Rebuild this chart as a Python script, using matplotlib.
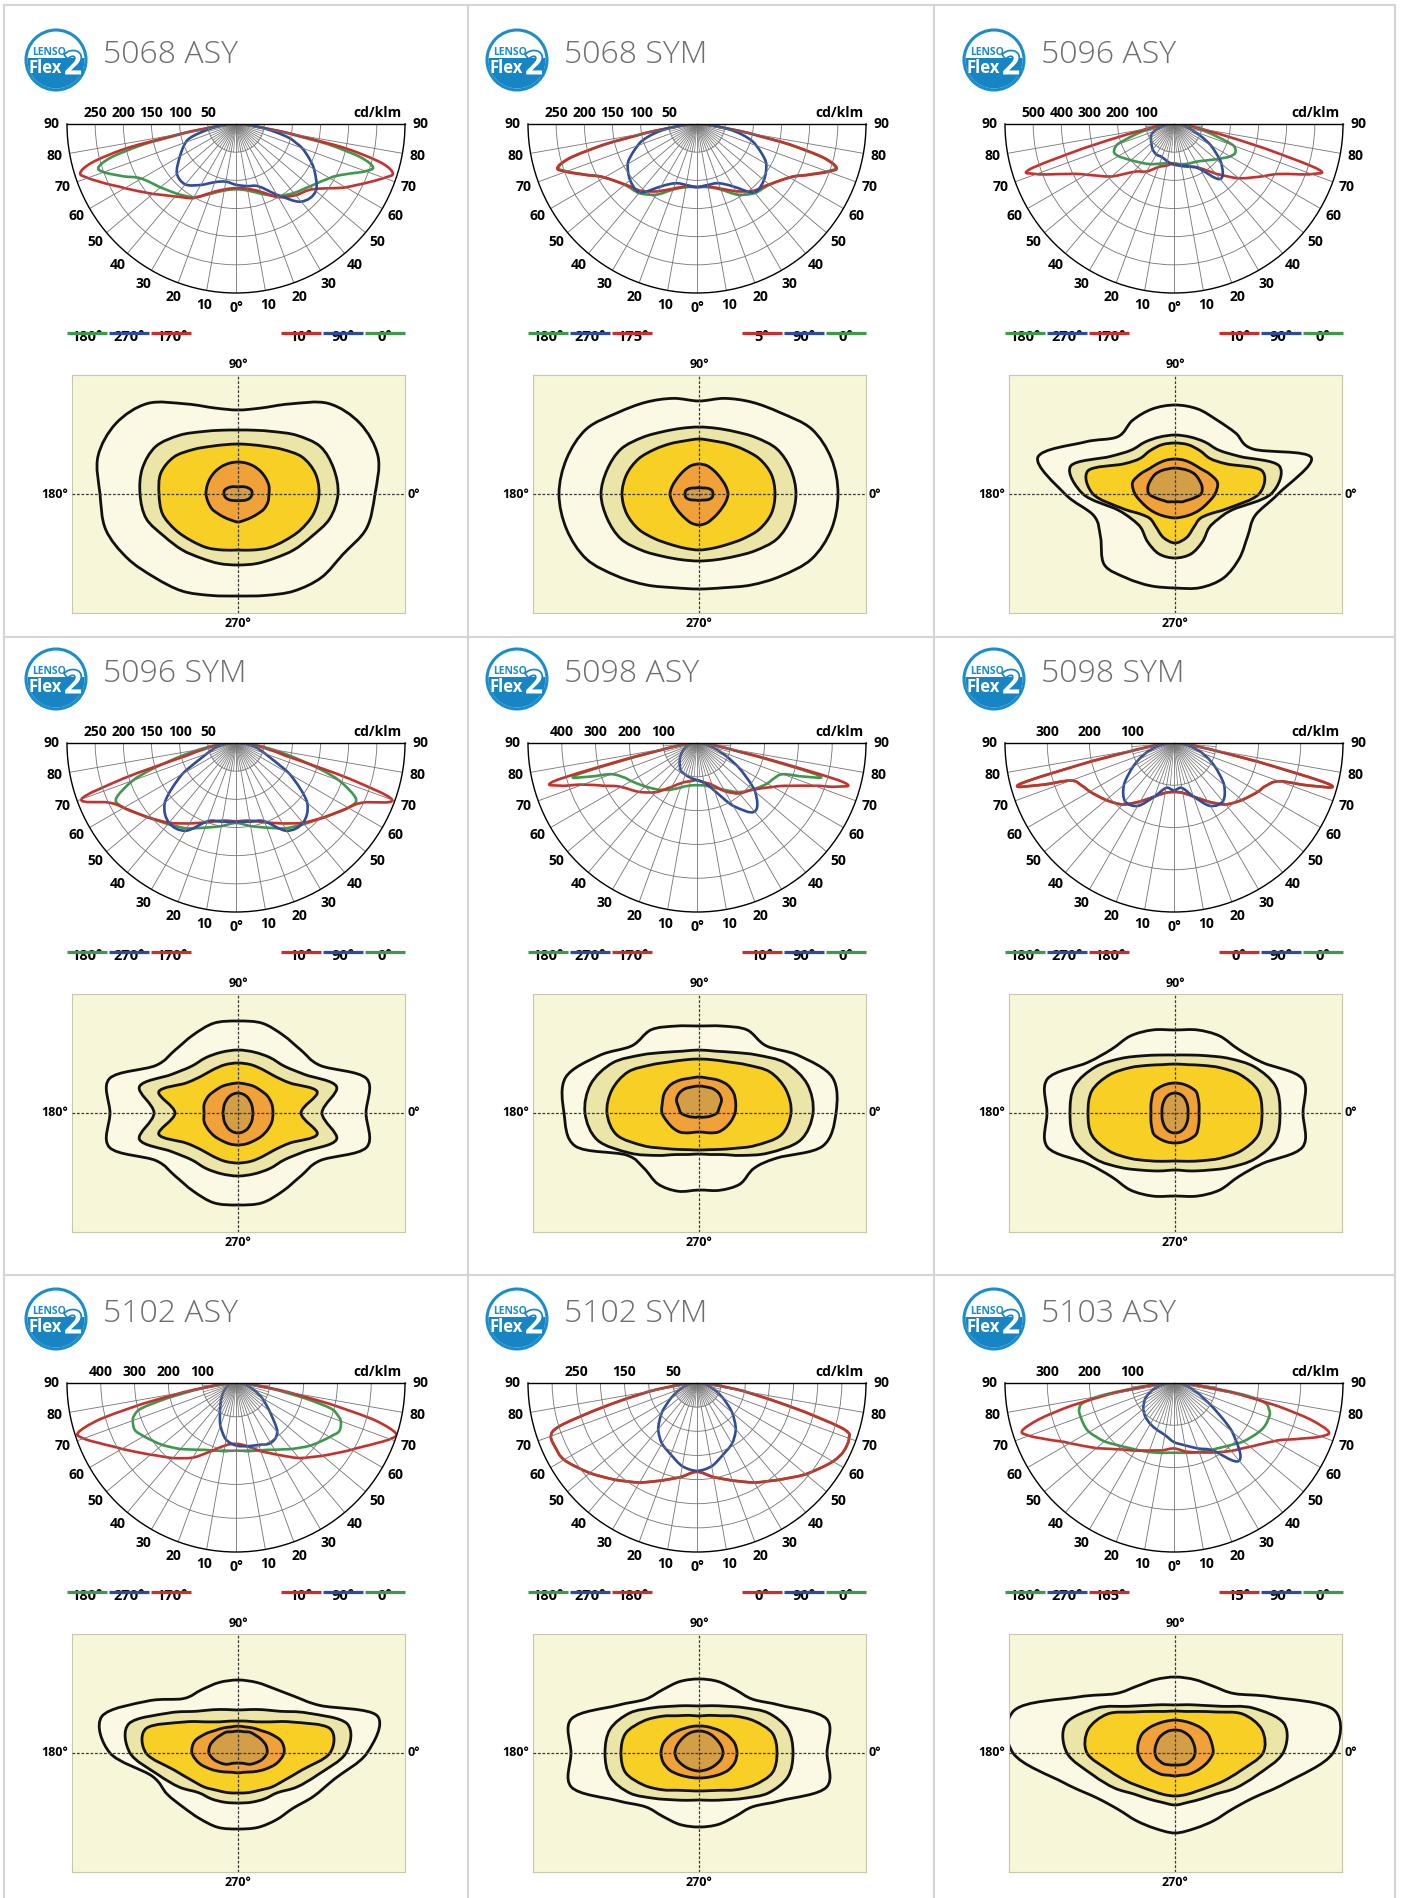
import numpy as np
import matplotlib
matplotlib.use("Agg")
import matplotlib.pyplot as plt
from matplotlib.path import Path
from matplotlib.patches import PathPatch, Circle, Rectangle
import matplotlib.patheffects as pe

plt.rcParams['font.family'] = ['Open Sans', 'DejaVu Sans']

W, H = 1402, 1898
R = 169                      # radius of the polar diagrams, px
ISO_W, ISO_H = 333, 238      # isolux box, px

NAMES = ["5068 ASY", "5068 SYM", "5096 ASY",
         "5096 SYM", "5098 ASY", "5098 SYM",
         "5102 ASY", "5102 SYM", "5103 ASY"]
LEFT_PLANES = [("180°", "270°", "170°"), ("180°", "270°", "175°"), ("180°", "270°", "170°"),
               ("180°", "270°", "170°"), ("180°", "270°", "170°"), ("180°", "270°", "180°"),
               ("180°", "270°", "170°"), ("180°", "270°", "180°"), ("180°", "270°", "165°")]
RIGHT_PLANES = [("10°", "90°", "0°"), ("5°", "90°", "0°"), ("10°", "90°", "0°"),
                ("10°", "90°", "0°"), ("10°", "90°", "0°"), ("0°", "90°", "0°"),
                ("10°", "90°", "0°"), ("0°", "90°", "0°"), ("15°", "90°", "0°")]
RING_STEP = [50, 50, 100, 50, 100, 100, 100, 50, 100]
RING_MAX = [300, 300, 600, 300, 500, 400, 500, 350, 400]
RING_LABELS = [[250, 200, 150, 100, 50], [250, 200, 150, 100, 50], [500, 400, 300, 200, 100],
               [250, 200, 150, 100, 50], [400, 300, 200, 100], [300, 200, 100],
               [400, 300, 200, 100], [250, 150, 50], [300, 200, 100]]

# luminous intensity (cd/klm) against gamma, one list per half plane
GAMMA = [0, 10, 20, 30, 40, 50, 60, 65, 70, 72.5, 75, 77.5, 80, 85, 90]
RED_L = [
    [114, 118, 130, 152, 168, 193, 228, 252, 280, 290, 265, 200, 100, 20, 0],
    [112, 113, 122, 138, 155, 167, 190, 215, 248, 260, 235, 170, 95, 20, 0],
    [140, 150, 163, 195, 222, 290, 360, 420, 520, 540, 330, 170, 100, 35, 0],
    [139, 140, 150, 165, 185, 205, 230, 250, 292, 210, 105, 72, 52, 25, 0],
    [110, 115, 125, 150, 190, 225, 260, 300, 360, 420, 440, 200, 90, 25, 0],
    [116, 120, 135, 160, 190, 210, 230, 240, 260, 330, 380, 200, 90, 25, 0],
    [180, 188, 215, 255, 290, 330, 390, 430, 480, 490, 420, 280, 160, 45, 0],
    [184, 198, 215, 238, 262, 290, 318, 322, 322, 300, 220, 150, 100, 30, 0],
    [155, 162, 170, 185, 205, 240, 285, 320, 365, 377, 330, 250, 160, 45, 0],
]
RED_R = [
    [114, 117, 128, 150, 165, 180, 225, 250, 280, 292, 268, 200, 100, 20, 0],
    [112, 113, 122, 138, 155, 167, 190, 215, 248, 260, 235, 170, 95, 20, 0],
    [140, 152, 162, 180, 230, 300, 370, 420, 520, 540, 330, 170, 100, 35, 0],
    [139, 140, 150, 165, 185, 205, 230, 250, 295, 212, 105, 72, 52, 25, 0],
    [110, 118, 132, 165, 195, 215, 260, 300, 370, 430, 450, 200, 90, 25, 0],
    [116, 120, 135, 160, 190, 210, 230, 240, 265, 335, 384, 200, 90, 25, 0],
    [180, 190, 215, 245, 290, 335, 395, 435, 485, 496, 425, 280, 160, 45, 0],
    [184, 198, 215, 238, 262, 294, 325, 335, 335, 320, 230, 150, 100, 30, 0],
    [155, 165, 175, 190, 210, 235, 275, 315, 370, 384, 335, 250, 160, 45, 0],
]
GREEN_L = [
    [116, 120, 132, 150, 162, 175, 194, 220, 250, 256, 230, 170, 92, 18, 0],
    [112, 114, 124, 145, 160, 168, 190, 214, 246, 258, 233, 168, 94, 20, 0],
    [140, 142, 150, 165, 180, 200, 228, 235, 215, 175, 140, 105, 75, 25, 0],
    [142, 150, 160, 175, 188, 205, 230, 235, 195, 160, 120, 90, 65, 28, 0],
    [125, 128, 140, 160, 180, 200, 225, 240, 270, 330, 375, 180, 85, 25, 0],
    [116, 120, 135, 160, 190, 210, 230, 240, 260, 330, 380, 200, 90, 25, 0],
    [200, 205, 212, 228, 255, 285, 315, 330, 325, 315, 290, 210, 130, 35, 0],
    [184, 198, 215, 238, 262, 290, 318, 322, 322, 300, 220, 150, 100, 30, 0],
    [165, 168, 174, 182, 195, 215, 232, 235, 235, 235, 232, 222, 180, 55, 0],
]
GREEN_R = [
    [116, 120, 132, 148, 160, 172, 192, 212, 245, 255, 230, 170, 92, 18, 0],
    [112, 114, 124, 145, 160, 168, 190, 214, 246, 258, 233, 168, 94, 20, 0],
    [140, 145, 150, 155, 170, 195, 230, 240, 225, 180, 140, 105, 75, 25, 0],
    [142, 150, 160, 175, 188, 205, 230, 235, 195, 160, 120, 90, 65, 28, 0],
    [125, 128, 140, 160, 190, 215, 240, 250, 270, 330, 375, 180, 85, 25, 0],
    [116, 120, 135, 160, 190, 210, 230, 240, 265, 335, 384, 200, 90, 25, 0],
    [200, 205, 212, 228, 255, 288, 320, 337, 330, 315, 290, 210, 130, 35, 0],
    [184, 198, 215, 238, 262, 294, 325, 335, 335, 320, 230, 150, 100, 30, 0],
    [165, 168, 174, 182, 195, 215, 232, 238, 239, 238, 232, 222, 180, 55, 0],
]
BLUE_L = [
    [108, 104, 110, 125, 140, 137, 115, 105, 95, 88, 75, 58, 45, 18, 0],
    [112, 110, 112, 128, 158, 155, 142, 128, 112, 104, 92, 78, 62, 25, 0],
    [145, 135, 125, 125, 118, 105, 95, 88, 75, 65, 55, 45, 35, 15, 0],
    [140, 142, 148, 180, 185, 165, 110, 75, 55, 48, 42, 36, 30, 15, 0],
    [110, 105, 100, 95, 80, 65, 50, 42, 35, 30, 25, 20, 15, 8, 0],
    [112, 108, 135, 172, 180, 155, 112, 92, 72, 63, 52, 42, 32, 14, 0],
    [185, 170, 135, 95, 70, 52, 38, 32, 26, 23, 20, 17, 14, 7, 0],
    [182, 175, 158, 145, 125, 95, 62, 48, 36, 30, 25, 20, 15, 7, 0],
    [140, 125, 118, 112, 105, 95, 80, 70, 58, 52, 45, 38, 30, 15, 0],
]
BLUE_R = [
    [108, 112, 118, 145, 180, 185, 160, 143, 125, 112, 100, 80, 60, 25, 0],
    [112, 110, 112, 128, 158, 155, 142, 128, 112, 104, 92, 78, 62, 25, 0],
    [145, 150, 160, 185, 255, 220, 150, 110, 75, 62, 50, 40, 30, 12, 0],
    [140, 142, 148, 180, 185, 165, 110, 75, 55, 48, 42, 36, 30, 15, 0],
    [110, 120, 150, 215, 265, 225, 140, 100, 70, 55, 45, 35, 25, 8, 0],
    [112, 108, 135, 172, 180, 155, 112, 92, 72, 63, 52, 42, 32, 14, 0],
    [185, 190, 195, 205, 190, 130, 90, 70, 52, 45, 38, 32, 25, 12, 0],
    [182, 175, 158, 145, 125, 95, 62, 48, 36, 30, 25, 20, 15, 7, 0],
    [140, 150, 165, 185, 240, 180, 95, 70, 50, 42, 35, 28, 22, 10, 0],
]

# isolux lines: distance from the luminaire axis (px) every 15 degrees, 0 = right
AZIMUTH = np.arange(0, 360, 15)
ISO_1 = [
    [137, 145, 141, 128, 104, 89, 84, 89, 104, 128, 141, 145, 138, 137, 128, 118, 112, 105, 102, 105, 112, 118, 121, 133],
    [139, 137, 130, 115, 106, 99, 93, 99, 106, 115, 130, 137, 140, 137, 130, 116, 105, 97, 95, 97, 105, 116, 130, 137],
    [103, 141, 90, 86, 85, 88, 89, 88, 85, 81, 104, 142, 110, 84, 86, 100, 97, 95, 94, 97, 97, 91, 84, 83],
    [128, 133, 95, 89, 90, 93, 92, 93, 90, 89, 95, 133, 128, 133, 95, 89, 90, 93, 92, 93, 90, 89, 95, 133],
    [137, 138, 115, 95, 96, 90, 87, 90, 96, 95, 115, 138, 135, 128, 84, 78, 82, 81, 77, 80, 82, 78, 90, 128],
    [128, 132, 101, 90, 89, 86, 83, 86, 89, 90, 101, 132, 128, 132, 101, 90, 89, 86, 83, 86, 89, 90, 101, 132],
    [129, 144, 95, 80, 74, 73, 73, 73, 73, 77, 104, 141, 128, 89, 82, 77, 76, 77, 76, 77, 77, 78, 87, 100],
    [128, 132, 95, 76, 73, 74, 74, 74, 73, 76, 95, 132, 128, 132, 95, 76, 73, 74, 74, 74, 73, 76, 95, 132],
    [158, 165, 112, 84, 77, 76, 76, 76, 77, 84, 112, 166, 162, 115, 90, 80, 78, 78, 80, 78, 78, 80, 90, 115],
]
ISO_2 = [
    [100, 99, 95, 83, 72, 66, 64, 66, 72, 83, 95, 99, 98, 95, 85, 79, 74, 72, 71, 72, 74, 79, 85, 95],
    [97, 95, 90, 80, 72, 68, 67, 68, 72, 80, 90, 95, 98, 95, 90, 80, 72, 68, 67, 68, 72, 80, 90, 95],
    [96, 108, 75, 62, 60, 59, 59, 59, 60, 62, 75, 108, 92, 60, 50, 48, 55, 62, 64, 62, 55, 48, 50, 60],
    [84, 102, 77, 66, 64, 63, 63, 63, 64, 66, 77, 102, 84, 102, 77, 66, 64, 63, 63, 63, 64, 66, 77, 102],
    [114, 112, 100, 82, 70, 64, 63, 64, 70, 82, 100, 112, 114, 105, 80, 60, 48, 43, 41, 43, 48, 60, 80, 105],
    [105, 104, 92, 77, 66, 60, 58, 60, 66, 77, 92, 104, 105, 104, 92, 77, 66, 60, 57, 60, 66, 77, 92, 104],
    [108, 113, 80, 59, 50, 45, 43, 45, 50, 59, 80, 113, 108, 83, 68, 56, 53, 51, 50, 51, 53, 56, 68, 83],
    [94, 92, 80, 64, 54, 49, 47, 49, 54, 64, 80, 92, 94, 92, 80, 64, 54, 49, 47, 49, 54, 64, 80, 92],
    [108, 113, 90, 66, 55, 50, 48, 50, 55, 66, 90, 113, 108, 85, 70, 58, 53, 51, 52, 51, 53, 58, 70, 85],
]
ISO_3 = [
    [81, 80, 74, 63, 55, 51, 50, 51, 55, 63, 74, 80, 79, 78, 72, 66, 62, 58, 56, 58, 62, 66, 72, 78],
    [76, 75, 70, 63, 58, 55, 55, 55, 58, 63, 70, 75, 77, 75, 70, 63, 58, 56, 56, 56, 58, 63, 70, 75],
    [84, 90, 60, 50, 50, 51, 51, 51, 50, 50, 60, 90, 82, 55, 40, 35, 38, 45, 49, 45, 38, 35, 40, 55],
    [63, 82, 60, 52, 50, 50, 50, 50, 50, 52, 60, 82, 63, 82, 60, 52, 50, 50, 50, 50, 50, 52, 60, 82],
    [92, 90, 82, 68, 59, 55, 54, 55, 59, 68, 82, 90, 92, 85, 65, 50, 42, 38, 37, 38, 42, 50, 65, 85],
    [87, 86, 76, 64, 55, 50, 49, 50, 55, 64, 76, 86, 87, 86, 76, 64, 55, 50, 48, 50, 55, 64, 76, 86],
    [92, 95, 62, 44, 36, 33, 32, 33, 36, 44, 62, 95, 92, 66, 54, 48, 43, 41, 40, 41, 43, 48, 54, 66],
    [78, 76, 64, 52, 43, 39, 37, 39, 43, 52, 64, 76, 78, 76, 64, 52, 43, 39, 38, 39, 43, 52, 64, 76],
    [88, 90, 78, 58, 48, 43, 42, 43, 48, 58, 78, 90, 88, 68, 56, 48, 44, 43, 43, 43, 44, 48, 56, 68],
]
ISO_4 = [
    [31, 32, 32, 32, 32, 32, 32, 32, 32, 32, 32, 32, 32, 31, 30, 28, 27, 27, 28, 27, 27, 28, 30, 31],
    [29, 28, 27, 27, 28, 29.5, 30, 29.5, 28, 27, 27, 28, 29, 28, 27, 27, 28, 30, 31, 30, 28, 27, 27, 28],
    [40, 44, 40, 36, 35, 35, 35, 35, 35, 36, 40, 44, 40, 34, 30, 27, 25, 24, 24, 24, 25, 27, 30, 34],
    [35, 35, 34, 32, 31, 30, 30, 30, 31, 32, 34, 35, 34, 35, 34, 33, 32, 32, 32, 32, 32, 33, 34, 35],
    [36, 38, 40, 40, 38, 36, 36, 36, 38, 40, 40, 38, 37, 33, 30, 27, 23, 20, 19, 20, 23, 27, 30, 33],
    [24, 25, 27, 30, 30, 30, 30, 30, 30, 30, 27, 25, 24, 25, 27, 30, 30, 30, 30, 30, 30, 30, 27, 25],
    [46, 45, 38, 32, 29, 27, 27, 27, 29, 32, 38, 45, 46, 40, 32, 26, 22, 20, 20, 20, 22, 26, 32, 40],
    [38, 37, 34, 31, 28.5, 27.5, 27, 27.5, 28.5, 31, 34, 37, 38, 37, 34, 30, 27, 25.5, 25, 25.5, 27, 30, 34, 37],
    [38, 38, 38, 36, 34, 33, 33, 33, 34, 36, 38, 38, 37, 34, 30, 27, 25, 23, 23, 23, 25, 27, 30, 34],
]
ISO_5 = [
    [14, 14, 12, 10, 8.5, 7.5, 7, 7.5, 8.5, 10, 12, 14, 14, 13, 11, 9, 7.5, 7, 6.5, 7, 7.5, 9, 11, 13],
    [14, 13.5, 11, 8.5, 7, 6.5, 6.5, 6.5, 7, 8.5, 11, 13.5, 14, 13.5, 11, 8.5, 7, 6.5, 6.5, 6.5, 7, 8.5, 11, 13.5],
    [26, 28, 28, 28, 27, 26, 26, 26, 27, 28, 28, 28, 26, 18, 13, 11, 9, 8, 8, 8, 9, 11, 13, 18],
    [15, 15, 16, 17, 18.5, 19.5, 20, 19.5, 18.5, 17, 16, 15, 15, 15, 16, 17, 18.5, 19.5, 20, 19.5, 18.5, 17, 16, 15],
    [18, 21, 26, 28, 28, 27, 27, 27, 28, 28, 26, 21, 18, 12, 8, 6, 5, 4, 4, 4, 5, 6, 8, 12],
    [13, 13.5, 14.5, 16, 18, 19.5, 20, 19.5, 18, 16, 14.5, 13.5, 13, 13.5, 14.5, 16, 18, 19.5, 20, 19.5, 18, 16, 14.5, 13.5],
    [29, 29, 27, 25, 24, 22, 22, 22, 24, 25, 27, 29, 29, 25, 20, 16, 12, 10.5, 10, 10.5, 12, 16, 20, 25],
    [24, 23.5, 22.5, 22, 22, 22, 22, 22, 22, 22, 22.5, 23.5, 24, 23, 21, 19.5, 18.5, 18, 18, 18, 18.5, 19.5, 21, 23],
    [20, 20.5, 21, 22, 22.5, 23, 23, 23, 22.5, 22, 21, 20.5, 20, 19, 17, 15.5, 13.5, 12.5, 12, 12.5, 13.5, 15.5, 17, 19],
]

RED, BLUE, GREEN = '#c9302c', '#2e4c9c', '#3d994b'
ISO_BG = '#f8f6d9'
ISO_COLORS = ['#fbf9e4', '#ebe5a7', '#f7cf25', '#f0a137', '#d39e45']
GRID = '#747474'

COL_X = [236, 697, 1174]     # top centre of each polar diagram
ROW_Y = [124, 743, 1383]
ISO_X = [238, 699, 1175]     # centre of each isolux box
ISO_Y = [494, 1113, 1753]


def box(x0, y0, w, h):
    return [x0 / W, 1 - (y0 + h) / H, w / W, h / H]


def spline_path(pts, closed):
    # Catmull-Rom through the points, as cubic Bezier pieces
    pts = np.asarray(pts, float)
    n = len(pts)
    if closed:
        get = lambda k: pts[k % n]
        count = n
    else:
        get = lambda k: pts[min(max(k, 0), n - 1)]
        count = n - 1
    verts = [pts[0]]
    codes = [Path.MOVETO]
    for k in range(count):
        p0, p1, p2, p3 = get(k - 1), get(k), get(k + 1), get(k + 2)
        verts += [p1 + (p2 - p0) / 6, p2 - (p3 - p1) / 6, p2]
        codes += [Path.CURVE4] * 3
    if closed:
        verts.append(pts[0])
        codes.append(Path.CLOSEPOLY)
    return Path(verts, codes)


def draw_logo(ax, x, y):
    ax.add_patch(Circle((x, y), 30, facecolor='white', edgecolor='#1b8dcc', lw=2.2, zorder=2))
    disc = Circle((x, y), 28.5, facecolor='#1785c4', edgecolor='none', zorder=3)
    ax.add_patch(disc)
    disc.set_clip_path(Rectangle((x - 32, y - 2), 64, 34, transform=ax.transData))
    ax.text(x - 7, y - 8, 'LENSO', color='#1b8dcc', fontsize=7.5, fontweight='bold',
            ha='center', va='center', zorder=4)
    ax.text(x - 11, y + 8, 'Flex', color='white', fontsize=12, fontweight='bold',
            ha='center', va='center', zorder=4)
    ax.text(x + 17, y + 6, '2', color='white', fontsize=23, fontweight='bold',
            ha='center', va='center', zorder=5,
            path_effects=[pe.withStroke(linewidth=2.5, foreground='#1785c4')])


fig = plt.figure(figsize=(W / 100, H / 100), dpi=100)
bg = fig.add_axes([0, 0, 1, 1])
bg.set_xlim(0, W)
bg.set_ylim(H, 0)
bg.axis('off')

# panel frame
for x in [4, 467.5, 934, 1395]:
    bg.plot([x, x], [5, H], color='#d5d5d5', lw=1.5)
for y in [5, 637, 1275]:
    bg.plot([4, 1395], [y, y], color='#d5d5d5', lw=1.5)

gam = np.array(GAMMA, dtype=float)
theta = np.radians(np.concatenate([-gam[::-1], gam[1:]]))
az = np.radians(AZIMUTH)

for i, name in enumerate(NAMES):
    row, col = divmod(i, 3)
    cx, cy = COL_X[col], ROW_Y[row]

    draw_logo(bg, cx - 180, cy - 64)
    bg.text(cx - 133, cy - 61, name, fontsize=23, fontweight='light', color='#6d6e71',
            va='baseline', ha='left')

    # polar intensity diagram
    rmax, step = RING_MAX[i], RING_STEP[i]
    pax = fig.add_axes(box(cx - R, cy - R / 2, 2 * R, 2 * R), projection='polar')
    pax.set_theta_zero_location('S')
    pax.set_thetamin(-90)
    pax.set_thetamax(90)
    pax.set_ylim(0, rmax)
    pax.set_xticks(np.radians(np.arange(-90, 91, 10)))
    pax.set_yticks(np.arange(step, rmax, step))
    pax.set_xticklabels([])
    pax.set_yticklabels([])
    pax.tick_params(length=0)
    pax.grid(True, color=GRID, lw=0.6)
    for s in pax.spines.values():
        s.set_edgecolor('black')
        s.set_linewidth(1.0)
    for g in range(-85, 90, 10):
        pax.plot(np.radians([g, g]), [0, step], color=GRID, lw=0.5)

    for left, right, colr in [(GREEN_L[i], GREEN_R[i], GREEN),
                              (RED_L[i], RED_R[i], RED),
                              (BLUE_L[i], BLUE_R[i], BLUE)]:
        rr = np.concatenate([np.array(left, float)[::-1], np.array(right, float)[1:]])
        curve = spline_path(np.column_stack([theta, rr]), closed=False)
        pax.add_patch(PathPatch(curve, fill=False, edgecolor=colr, lw=1.9,
                                joinstyle='round'))

    for g in range(0, 91, 10):
        lab = '0°' if g == 0 else str(g)
        for sgn in ([1] if g == 0 else [-1, 1]):
            pax.text(np.radians(sgn * g), rmax * 1.09, lab, ha='center', va='center',
                     fontsize=10, fontweight='bold', clip_on=False)
    for v in RING_LABELS[i]:
        pax.annotate(str(v), xy=(-np.pi / 2, v), xytext=(0, 11), textcoords='offset pixels',
                     ha='center', va='center', fontsize=10, fontweight='bold',
                     annotation_clip=False)
    pax.annotate('cd/klm', xy=(np.pi / 2, rmax), xytext=(-3, 11), textcoords='offset pixels',
                 ha='right', va='center', fontsize=10, fontweight='bold', annotation_clip=False)

    # C-plane key
    seg, pitch, ly = 40, 42.2, cy + 209
    for k, (lab, colr) in enumerate(zip(LEFT_PLANES[i], [GREEN, BLUE, RED])):
        x0 = cx - R + k * pitch
        bg.plot([x0, x0 + seg], [ly, ly], color=colr, lw=2.3, solid_capstyle='butt', zorder=4)
        bg.text(x0 + seg / 2, ly - 3.5, lab, ha='center', va='top', fontsize=10.5,
                fontweight='bold', zorder=3)
    for k, (lab, colr) in enumerate(zip(RIGHT_PLANES[i], [RED, BLUE, GREEN])):
        x0 = cx + R - 2 * pitch - seg + k * pitch
        bg.plot([x0, x0 + seg], [ly, ly], color=colr, lw=2.3, solid_capstyle='butt', zorder=4)
        bg.text(x0 + seg / 2, ly - 3.5, lab, ha='center', va='top', fontsize=10.5,
                fontweight='bold', zorder=3)

    # isolux diagram
    ix, iy = ISO_X[col], ISO_Y[row]
    iax = fig.add_axes(box(ix - ISO_W / 2, iy - ISO_H / 2, ISO_W, ISO_H))
    iax.set_xlim(-ISO_W / 2, ISO_W / 2)
    iax.set_ylim(-ISO_H / 2, ISO_H / 2)
    iax.set_facecolor(ISO_BG)
    iax.set_xticks([])
    iax.set_yticks([])
    for s in iax.spines.values():
        s.set_edgecolor('#c9c6ae')
        s.set_linewidth(0.8)
    for level, (radii, fc) in enumerate(zip([ISO_1[i], ISO_2[i], ISO_3[i], ISO_4[i], ISO_5[i]],
                                            ISO_COLORS)):
        rr = np.array(radii, float)
        outline = spline_path(np.column_stack([rr * np.cos(az), rr * np.sin(az)]), closed=True)
        iax.add_patch(PathPatch(outline, facecolor=fc, edgecolor='#111111', lw=2.0,
                                zorder=2 + level))
    iax.axhline(0, color='#3a3a3a', lw=0.9, ls=(0, (2.2, 1.4)), zorder=10)
    iax.axvline(0, color='#3a3a3a', lw=0.9, ls=(0, (2.2, 1.4)), zorder=10)
    lab_kw = dict(xycoords='axes fraction', textcoords='offset pixels',
                  fontsize=9, fontweight='bold', annotation_clip=False)
    iax.annotate('90°', xy=(0.5, 1), xytext=(0, 4), ha='center', va='bottom', **lab_kw)
    iax.annotate('270°', xy=(0.5, 0), xytext=(0, -4), ha='center', va='top', **lab_kw)
    iax.annotate('180°', xy=(0, 0.5), xytext=(-3, 0), ha='right', va='center', **lab_kw)
    iax.annotate('0°', xy=(1, 0.5), xytext=(3, 0), ha='left', va='center', **lab_kw)

fig.savefig('out.png', dpi=100, facecolor='white')
